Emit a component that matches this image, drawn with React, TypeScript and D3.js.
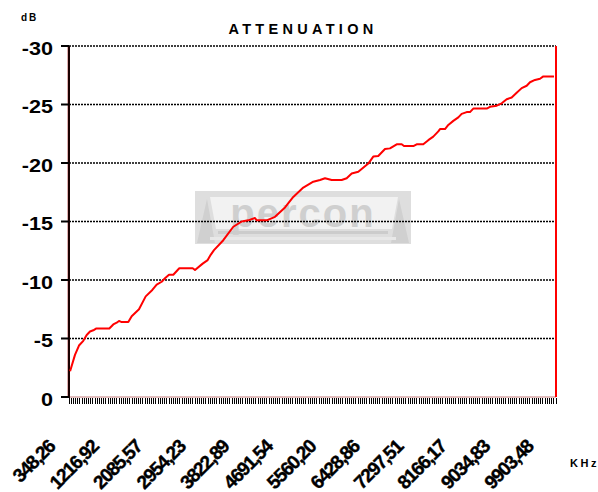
import React from "react";
import * as d3 from "d3";

// Category axis: frequency sweep in kHz (label every 20th category)
const N_CATEGORIES = 224;
const LABEL_EVERY = 20;
const tickLabels = [
  "348,26", "1216,92", "2085,57", "2954,23", "3822,89", "4691,54",
  "5560,20", "6428,86", "7297,51", "8166,17", "9034,83", "9903,48",
];
const yTicks = [0, -5, -10, -15, -20, -25, -30];

// Attenuation curve: frequency (kHz) / dB
const freqKHz = [
  348, 446, 526, 612, 680, 746, 812, 866, 1132, 1211, 1279, 1325, 1379, 1511,
  1579, 1725, 1859, 1991, 2078, 2178, 2244, 2324, 2410, 2530, 2798, 2844, 2997,
  3097, 3157, 3223, 3409, 3609, 3777, 3908, 4042, 4076, 4276, 4442, 4642, 4807,
  5007, 5207, 5341, 5441, 5574, 5774, 5874, 5974, 6106, 6306, 6405, 6505, 6639,
  6739, 6873, 6973, 7019, 7205, 7272, 7404, 7504, 7604, 7704, 7738, 7838, 7904,
  8004, 8104, 8171, 8271, 8337, 8403, 8671, 8737, 8871, 8971, 9070, 9170, 9270,
  9370, 9470, 9536, 9636, 9736, 9802, 10015,
];
const attenuationDb = [
  -2.2, -3.6, -4.4, -4.8, -5.3, -5.6, -5.7, -5.85, -5.85, -6.2, -6.35, -6.5,
  -6.4, -6.4, -6.9, -7.5, -8.6, -9.15, -9.6, -9.85, -10.15, -10.45, -10.45,
  -11.0, -11.0, -10.85, -11.4, -11.7, -12.15, -12.55, -13.4, -14.55, -15.0,
  -15.1, -15.3, -15.1, -15.1, -15.4, -16.2, -17.1, -17.9, -18.4, -18.55, -18.7,
  -18.55, -18.55, -18.7, -19.1, -19.25, -19.95, -20.55, -20.6, -21.2, -21.25,
  -21.6, -21.6, -21.45, -21.45, -21.6, -21.6, -21.95, -22.25, -22.7, -22.9,
  -22.9, -23.25, -23.6, -23.9, -24.2, -24.35, -24.35, -24.65, -24.65, -24.8,
  -24.9, -25.1, -25.45, -25.6, -26.0, -26.4, -26.6, -26.9, -27.1, -27.2, -27.4,
  -27.4,
];

const W = 598;
const H = 492;
const PL = 69, PR = 556, PT = 46, PB = 397;
const FONT = "'Liberation Sans', Arial, sans-serif";

export default function App() {
  const xBand = d3
    .scaleBand<number>()
    .domain(d3.range(N_CATEGORIES))
    .range([PL, PR])
    .paddingInner(0)
    .paddingOuter(0);
  const bw = xBand.bandwidth();
  const center = (i: number) => (xBand(i) as number) + bw / 2;

  const f0 = parseFloat(tickLabels[0].replace(",", "."));
  const fLastLabel = parseFloat(tickLabels[tickLabels.length - 1].replace(",", "."));
  const fStep = (fLastLabel - f0) / ((tickLabels.length - 1) * LABEL_EVERY);
  const xFreq = d3
    .scaleLinear()
    .domain([f0, f0 + (N_CATEGORIES - 1) * fStep])
    .range([center(0), center(N_CATEGORIES - 1)]);

  const y = d3.scaleLinear().domain([0, -30]).range([PB, PT]);

  const pts = freqKHz.map((f, i) => [f, attenuationDb[i]] as [number, number]);
  const line = d3
    .line<[number, number]>()
    .x((d) => xFreq(d[0]))
    .y((d) => y(d[1]));

  const boundaries = d3.range(N_CATEGORIES + 1).map((i) =>
    i < N_CATEGORIES ? (xBand(i) as number) : PR
  );

  return (
    <svg width={W} height={H} style={{ position: "absolute", left: 0, top: 0, background: "#fff" }}>
      <rect x={0} y={0} width={W} height={H} fill="#fff" />
      {/* watermark logo */}
      <g>
        <rect x={195} y={191} width={216} height={53} fill="#dedede" />
        <polygon points="210,197 398,197 392,229 216,229" fill="#f2f2f2" />
        <polygon points="197,243 207,199 215,243" fill="#d0d0d0" />
        <polygon points="409,243 399,199 391,243" fill="#d0d0d0" />
        <text x={303} y={227} textAnchor="middle" fontFamily={FONT} fontWeight="bold"
          fontSize={40} fill="#cfcfcf" letterSpacing={2}>percon</text>
        <rect x={218} y={231} width={170} height={3} fill="#cccccc" />
        <rect x={210} y={237} width={186} height={3} fill="#e8e8e8" />
      </g>

      {/* gridlines */}
      {yTicks.filter((t) => t !== 0).map((t) => (
        <line key={t} x1={PL} x2={PR} y1={y(t)} y2={y(t)} stroke="#000"
          strokeWidth={1.5} strokeDasharray="2,1" />
      ))}
      {/* bottom axis line */}
      <line x1={PL} x2={PR} y1={PB} y2={PB} stroke="#d8a8a8" strokeWidth={1.5} />
      {/* x ticks */}
      {boundaries.map((bx, i) => (
        <line key={i} x1={bx} x2={bx} y1={398} y2={404} stroke="#000" strokeWidth={1}
          shapeRendering="crispEdges" />
      ))}
      {/* right red border */}
      <line x1={PR} x2={PR} y1={PT} y2={PB} stroke="#ff0000" strokeWidth={2} />
      {/* left axis */}
      <line x1={PL - 1.5} x2={PL - 1.5} y1={PT} y2={PB} stroke="#e0b0b0" strokeWidth={1} />
      <line x1={PL} x2={PL} y1={PT} y2={PB + 1} stroke="#1a0000" strokeWidth={2} />
      {yTicks.map((t) => (
        <line key={t} x1={61} x2={PL} y1={y(t)} y2={y(t)} stroke="#000" strokeWidth={2} />
      ))}
      {yTicks.map((t) => (
        <text key={t} transform={`translate(53,${y(t) + 8.5}) scale(1.2,1)`} textAnchor="end"
          fontFamily={FONT} fontWeight="bold" fontSize={18} fill="#000">{String(t)}</text>
      ))}

      {/* curve */}
      <path d={line(pts) || ""} fill="none" stroke="#ff0000" strokeWidth={2} strokeLinejoin="round" />

      {/* x labels */}
      {tickLabels.map((lab, k) => {
        const cx = center(k * LABEL_EVERY);
        return (
          <text key={lab} transform={`translate(${cx - 14},448) rotate(-45)`} textAnchor="end"
            fontFamily={FONT} fontWeight="bold" fontSize={19} letterSpacing={-1.3} fill="#000"
            stroke="#000" strokeWidth={0.4}>{lab}</text>
        );
      })}

      {/* titles */}
      <text x={303} y={34} textAnchor="middle" fontFamily={FONT} fontWeight="bold" fontSize={14.5}
        letterSpacing={4.3} fill="#000">ATTENUATION</text>
      <text x={21} y={21} fontFamily={FONT} fontWeight="bold" fontSize={10} letterSpacing={2}
        fill="#000">dB</text>
      <text x={570} y={467} fontFamily={FONT} fontWeight="bold" fontSize={11} letterSpacing={2.5}
        fill="#000">KHz</text>
    </svg>
  );
}
